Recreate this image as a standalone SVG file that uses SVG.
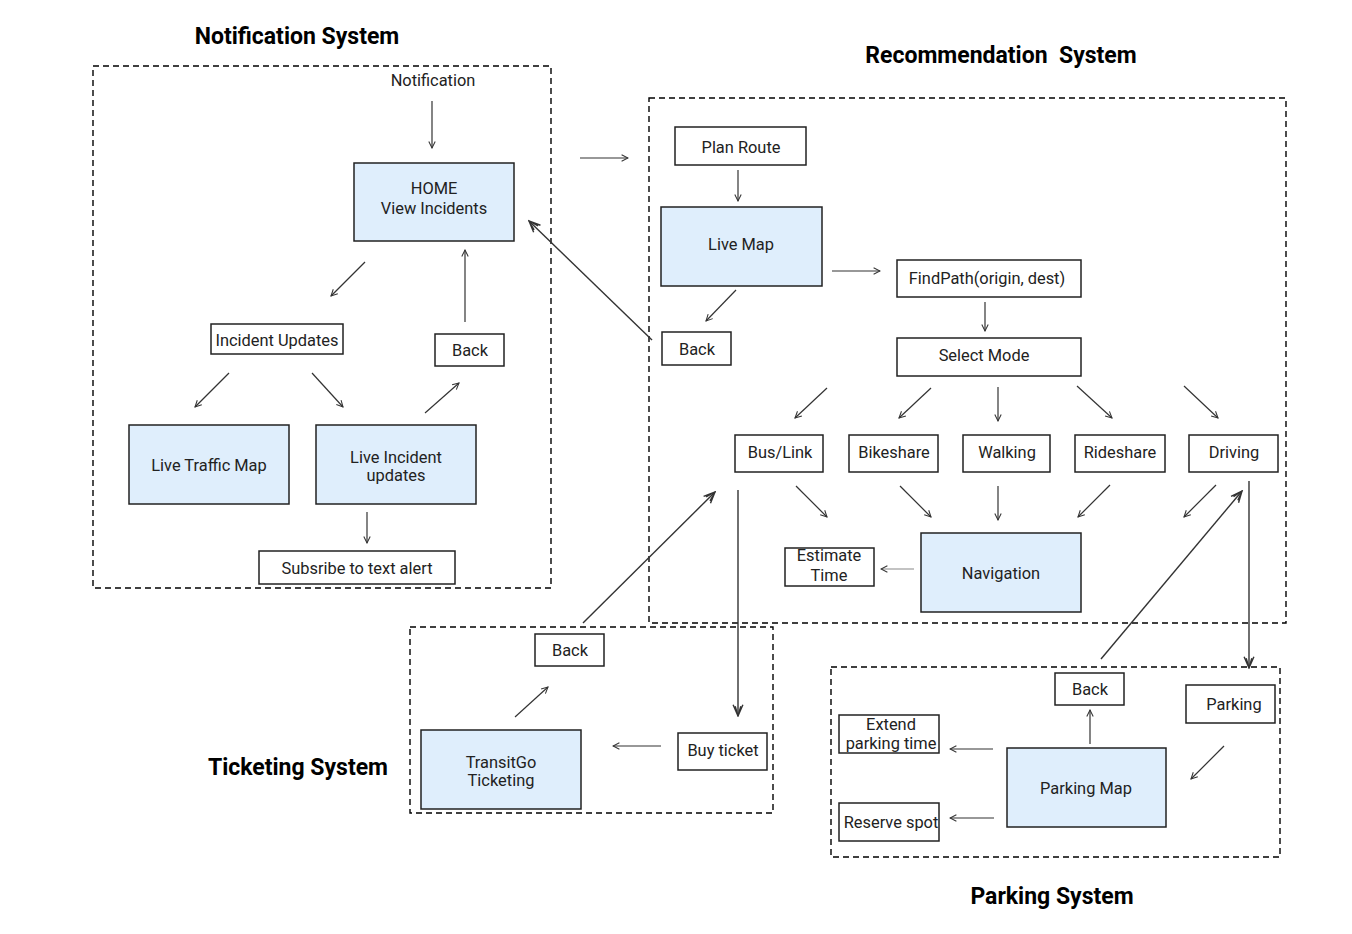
<svg xmlns="http://www.w3.org/2000/svg" width="1352" height="934" viewBox="0 0 1352 934">
<style>
.t{font-family:Roboto,"Liberation Sans",sans-serif;font-size:16.4px;fill:#222;text-anchor:middle;}
.h{font-family:Roboto,"Liberation Sans",sans-serif;font-size:23px;font-weight:bold;fill:#000;text-anchor:middle;}
.b{fill:#fff;stroke:#222;stroke-width:1.5;}
.bl{fill:#dfeefc;stroke:#222;stroke-width:1.5;}
.c{fill:none;stroke:#000;stroke-width:1.4;stroke-dasharray:6 4;}
.a{fill:none;stroke:#333;stroke-width:1.2;marker-end:url(#ah);}
.A{fill:none;stroke:#333;stroke-width:1.4;marker-end:url(#AH);}
</style>
<defs>
<marker id="ah" viewBox="0 0 10 10" refX="9" refY="5" markerWidth="8" markerHeight="8" markerUnits="userSpaceOnUse" orient="auto">
<path d="M1,1 L9,5 L1,9" fill="none" stroke="#333" stroke-width="1.3"/>
</marker>
<marker id="AH" viewBox="0 0 10 10" refX="9" refY="5" markerWidth="14" markerHeight="14" markerUnits="userSpaceOnUse" orient="auto">
<path d="M1,1.5 L9,5 L1,8.5 M2,3 L9,5 L2,7" fill="none" stroke="#333" stroke-width="1"/>
</marker>
</defs>
<rect width="1352" height="934" fill="#fff"/>

<g id="containers">
<rect class="c" x="93" y="66" width="458" height="522"/>
<rect class="c" x="649" y="98" width="637" height="525"/>
<rect class="c" x="410" y="627" width="363" height="186"/>
<rect class="c" x="831" y="667" width="449" height="190"/>
</g>

<g id="titles">
<text class="h" x="297" y="44">Notification System</text>
<text class="h" x="1001" y="63" xml:space="preserve">Recommendation  System</text>
<text class="h" x="298" y="775">Ticketing System</text>
<text class="h" x="1052" y="904">Parking System</text>
</g>

<g id="connectors">
<line class="a" x1="432" y1="101" x2="432" y2="148"/>
<line class="a" x1="365" y1="262" x2="331" y2="296"/>
<line class="a" x1="465" y1="322" x2="465" y2="250"/>
<line class="a" x1="229" y1="373" x2="195" y2="407"/>
<line class="a" x1="312" y1="373" x2="343" y2="407"/>
<line class="a" x1="425" y1="413" x2="459" y2="383"/>
<line class="a" x1="367" y1="512" x2="367" y2="543"/>
<line class="a" x1="580" y1="158" x2="628" y2="158"/>
<line class="A" x1="652" y1="340" x2="529" y2="221"/>
<line class="a" x1="738" y1="170" x2="738" y2="201"/>
<line class="a" x1="832" y1="271" x2="880" y2="271"/>
<line class="a" x1="736" y1="290" x2="706" y2="321"/>
<line class="a" x1="985" y1="302" x2="985" y2="331"/>
<line class="a" x1="827" y1="388" x2="795" y2="418"/>
<line class="a" x1="931" y1="388" x2="899" y2="418"/>
<line class="a" x1="998" y1="387" x2="998" y2="421"/>
<line class="a" x1="1077" y1="386" x2="1112" y2="418"/>
<line class="a" x1="1184" y1="386" x2="1218" y2="418"/>
<line class="a" x1="796" y1="486" x2="827" y2="517"/>
<line class="a" x1="900" y1="486" x2="931" y2="517"/>
<line class="a" x1="998" y1="486" x2="998" y2="520"/>
<line class="a" x1="1110" y1="485" x2="1078" y2="517"/>
<line class="a" x1="1216" y1="485" x2="1184" y2="517"/>
<line class="a" x1="914" y1="569" x2="881" y2="569" style="stroke:#888"/>
<line class="A" x1="738" y1="490" x2="738" y2="716"/>
<line class="A" x1="583" y1="623" x2="715" y2="492"/>
<line class="a" x1="661" y1="746" x2="613" y2="746"/>
<line class="a" x1="515" y1="717" x2="548" y2="687"/>
<line class="A" x1="1249" y1="481" x2="1249" y2="668"/>
<line class="A" x1="1101" y1="659" x2="1242" y2="491"/>
<line class="a" x1="1224" y1="746" x2="1191" y2="779"/>
<line class="a" x1="1090" y1="744" x2="1090" y2="710"/>
<line class="a" x1="993" y1="749" x2="950" y2="749"/>
<line class="a" x1="994" y1="818" x2="950" y2="818"/>
</g>

<g id="notification"><text class="t" x="433" y="86">Notification</text></g>
<g id="home"><rect class="bl" x="354" y="163" width="160" height="78"/><text class="t" x="434" y="194">HOME</text><text class="t" x="434" y="214">View Incidents</text></g>
<g id="incident-updates"><rect class="b" x="211" y="324" width="132" height="30"/><text class="t" x="277" y="346">Incident Updates</text></g>
<g id="back-notif"><rect class="b" x="435" y="334" width="69" height="32"/><text class="t" x="470" y="356">Back</text></g>
<g id="live-traffic-map"><rect class="bl" x="129" y="425" width="160" height="79"/><text class="t" x="209" y="471">Live Traffic Map</text></g>
<g id="live-incident-updates"><rect class="bl" x="316" y="425" width="160" height="79"/><text class="t" x="396" y="463">Live Incident</text><text class="t" x="396" y="481">updates</text></g>
<g id="subscribe"><rect class="b" x="259" y="551" width="196" height="33"/><text class="t" x="357" y="574">Subsribe to text alert</text></g>

<g id="plan-route"><rect class="b" x="675" y="127" width="131" height="38"/><text class="t" x="741" y="153">Plan Route</text></g>
<g id="live-map"><rect class="bl" x="661" y="207" width="161" height="79"/><text class="t" x="741" y="250">Live Map</text></g>
<g id="back-rec"><rect class="b" x="662" y="332" width="69" height="33"/><text class="t" x="697" y="355">Back</text></g>
<g id="findpath"><rect class="b" x="897" y="260" width="184" height="37"/><text class="t" x="987" y="284">FindPath(origin, dest)</text></g>
<g id="select-mode"><rect class="b" x="897" y="338" width="184" height="38"/><text class="t" x="984" y="361">Select Mode</text></g>
<g id="bus-link"><rect class="b" x="735" y="435" width="88" height="37"/><text class="t" x="780" y="458">Bus/Link</text></g>
<g id="bikeshare"><rect class="b" x="849" y="435" width="89" height="37"/><text class="t" x="894" y="458">Bikeshare</text></g>
<g id="walking"><rect class="b" x="963" y="435" width="87" height="37"/><text class="t" x="1007" y="458">Walking</text></g>
<g id="rideshare"><rect class="b" x="1075" y="435" width="90" height="37"/><text class="t" x="1120" y="458">Rideshare</text></g>
<g id="driving"><rect class="b" x="1189" y="435" width="89" height="37"/><text class="t" x="1234" y="458">Driving</text></g>
<g id="estimate-time"><rect class="b" x="785" y="548" width="89" height="38"/><text class="t" x="829" y="561">Estimate</text><text class="t" x="829" y="581">Time</text></g>
<g id="navigation"><rect class="bl" x="921" y="533" width="160" height="79"/><text class="t" x="1001" y="579">Navigation</text></g>

<g id="back-ticket"><rect class="b" x="535" y="634" width="69" height="32"/><text class="t" x="570" y="656">Back</text></g>
<g id="transitgo"><rect class="bl" x="421" y="730" width="160" height="79"/><text class="t" x="501" y="768">TransitGo</text><text class="t" x="501" y="786">Ticketing</text></g>
<g id="buy-ticket"><rect class="b" x="678" y="733" width="89" height="37"/><text class="t" x="723" y="756">Buy ticket</text></g>

<g id="back-parking"><rect class="b" x="1055" y="673" width="69" height="32"/><text class="t" x="1090" y="695">Back</text></g>
<g id="parking"><rect class="b" x="1186" y="685" width="89" height="38"/><text class="t" x="1234" y="710">Parking</text></g>
<g id="extend"><rect class="b" x="839" y="715" width="100" height="38"/><text class="t" x="891" y="730">Extend</text><text class="t" x="891" y="749">parking time</text></g>
<g id="reserve"><rect class="b" x="839" y="803" width="100" height="38"/><text class="t" x="891" y="828">Reserve spot</text></g>
<g id="parking-map"><rect class="bl" x="1007" y="748" width="159" height="79"/><text class="t" x="1086" y="794">Parking Map</text></g>
</svg>
